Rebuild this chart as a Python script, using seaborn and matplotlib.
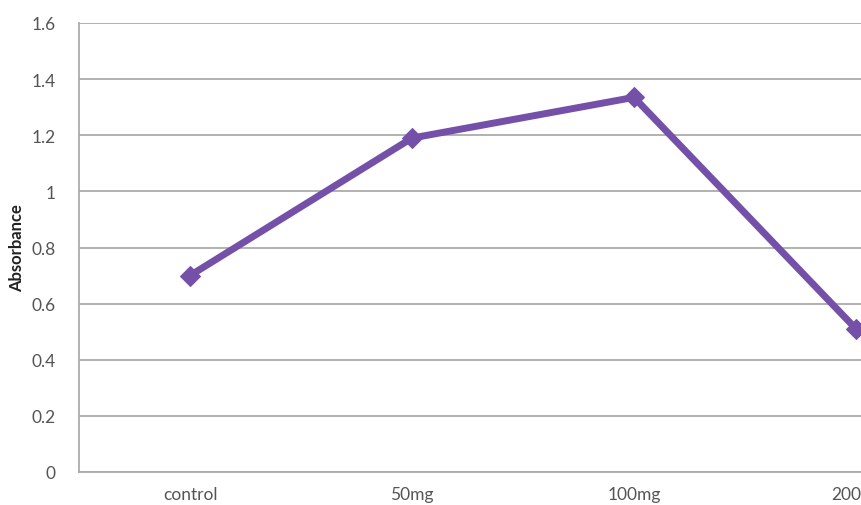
import matplotlib
matplotlib.use("Agg")
import matplotlib.pyplot as plt
import matplotlib.transforms as mtransforms
import seaborn as sns
import pandas as pd

# Absorbance readings per treatment group
doses = ["control", "50mg", "100mg", "200"]
absorbance = [0.70, 1.19, 1.335, 0.51]
y_ticks = [0, 0.2, 0.4, 0.6, 0.8, 1, 1.2, 1.4, 1.6]
y_tick_labels = ["0", "0.2", "0.4", "0.6", "0.8", "1", "1.2", "1.4", "1.6"]

df = pd.DataFrame({"dose": doses, "absorbance": absorbance})

sns.set_style("white")
plt.rcParams["font.family"] = ["Lato", "DejaVu Sans"]

W, H = 861, 506
fig = plt.figure(figsize=(W / 100, H / 100), dpi=100)
# plot area spans four category slots, wider than the canvas on the right
ax = fig.add_axes([79 / W, (H - 473) / H, 888 / W, (473 - 24) / H])

line_color = "#7450A8"
sns.lineplot(data=df, x="dose", y="absorbance", ax=ax, color=line_color,
             linewidth=5, marker="D", markersize=10,
             markeredgecolor=line_color, markerfacecolor=line_color,
             sort=False, zorder=5)

ax.set_xlim(-0.5, 3.5)
ax.set_ylim(0, 1.6)
ax.set_yticks(y_ticks)
ax.set_yticklabels(y_tick_labels)

grid_color = "#ABABAB"
ax.yaxis.grid(True, color=grid_color, linewidth=1.3)
ax.xaxis.grid(False)
for side in ["top", "right"]:
    ax.spines[side].set_visible(False)
for side in ["left", "bottom"]:
    ax.spines[side].set_color(grid_color)
    ax.spines[side].set_linewidth(1.3)

ax.tick_params(axis="both", length=0, labelsize=12.5, labelcolor="#555555")
ax.tick_params(axis="y", pad=17)
ax.tick_params(axis="x", pad=10)
ax.set_xlabel("")
ax.set_ylabel("Absorbance", fontsize=12, fontweight="bold", color="#222222", labelpad=4)

# keep the last category label inside the canvas edge
last = ax.get_xticklabels()[-1]
last.set_transform(last.get_transform() + mtransforms.ScaledTranslation(-10 / 100, 0, fig.dpi_scale_trans))

fig.savefig("out.png", dpi=100)
